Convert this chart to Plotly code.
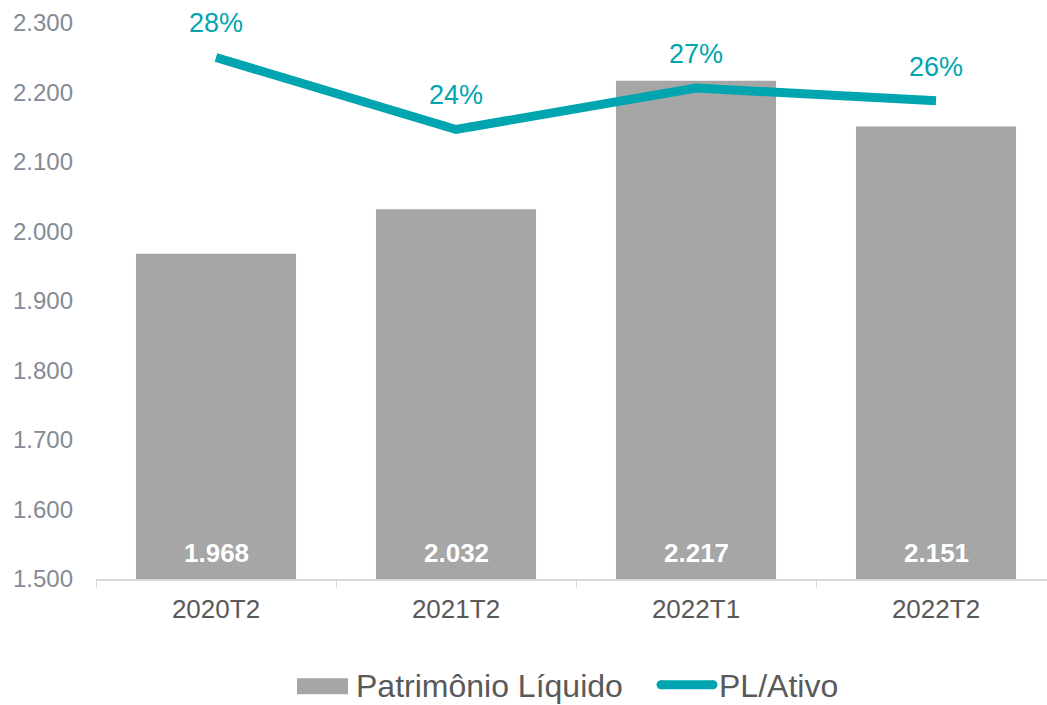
import plotly.graph_objects as go

categories = ["2020T2", "2021T2", "2022T1", "2022T2"]
patrimonio = [1968, 2032, 2217, 2151]
pl_ativo = [0.284, 0.244, 0.267, 0.260]
y_ticks = [1500, 1600, 1700, 1800, 1900, 2000, 2100, 2200, 2300]
series_names = ["Patrimônio Líquido", "PL/Ativo"]

Y_MIN, Y_MAX = 1500, 2300
TEAL = "#00A5B0"
GREY = "#A6A6A6"
FONT = "Liberation Sans, Arial, sans-serif"

# plot area in pixels (for placing the hand-drawn legend)
L, T, B, W, H = 96, 22.5, 126.3, 1047, 705
PW, PH = W - L, H - T - B
def px(xp):
    return (xp - L) / PW
def py(yp):
    return (H - B - yp) / PH

LEG_DY = -4  # keep legend text fully inside the page

fig = go.Figure()
fig.add_trace(go.Bar(
    x=categories, y=patrimonio, name=series_names[0],
    marker=dict(color=GREY, line=dict(width=0)),
    hoverinfo="skip",
))
fig.add_trace(go.Scatter(
    x=categories, y=pl_ativo, name=series_names[1], yaxis="y2",
    mode="lines", line=dict(color=TEAL, width=9),
    hoverinfo="skip",
))

annotations = []
for c, v in zip(categories, pl_ativo):
    annotations.append(dict(
        x=c, y=v, xref="x", yref="y2", text=f"{round(v*100):.0f}%",
        showarrow=False, yshift=34, yanchor="middle",
        font=dict(family=FONT, size=27, color=TEAL),
    ))
for c, v in zip(categories, patrimonio):
    annotations.append(dict(
        x=c, y=Y_MIN, xref="x", yref="y", text=f"{v:,}".replace(",", "."),
        showarrow=False, yshift=26, yanchor="middle",
        font=dict(family=FONT, size=26, color="white", weight="bold"),
    ))

# legend (drawn by hand to match the wide symbols)
annotations.append(dict(
    x=px(354), y=py(690 + LEG_DY), xref="paper", yref="paper", text=series_names[0],
    showarrow=False, xanchor="left", yanchor="middle",
    font=dict(family=FONT, size=32, color="#595959"),
))
annotations.append(dict(
    x=px(717), y=py(690 + LEG_DY), xref="paper", yref="paper", text=series_names[1],
    showarrow=False, xanchor="left", yanchor="middle",
    font=dict(family=FONT, size=32, color="#595959"),
))
shapes = [
    dict(type="rect", xref="paper", yref="paper",
         x0=px(297), x1=px(348), y0=py(698 + LEG_DY), y1=py(682 + LEG_DY),
         fillcolor=GREY, line=dict(width=0)),
    dict(type="line", xref="paper", yref="paper",
         x0=px(661), x1=px(713), y0=py(688.5 + LEG_DY), y1=py(688.5 + LEG_DY),
         line=dict(color=TEAL, width=9)),
    dict(type="circle", xref="paper", yref="paper",
         x0=px(656.5), x1=px(665.5), y0=py(693 + LEG_DY), y1=py(684 + LEG_DY),
         fillcolor=TEAL, line=dict(width=0)),
    dict(type="circle", xref="paper", yref="paper",
         x0=px(708.5), x1=px(717.5), y0=py(693 + LEG_DY), y1=py(684 + LEG_DY),
         fillcolor=TEAL, line=dict(width=0)),
]

fig.update_layout(
    width=W, height=H,
    margin=dict(l=L, r=0, t=T, b=B, autoexpand=False),
    paper_bgcolor="white", plot_bgcolor="white",
    separators=",.",
    bargap=0.333,
    font=dict(family=FONT, color="#595959"),
    xaxis=dict(
        type="category", range=[-0.5, 3.4625],
        showline=True, linecolor="#D9D9D9", linewidth=1.5,
        ticks="outside", tickson="boundaries", ticklen=7, tickcolor="#D9D9D9",
        tickfont=dict(family=FONT, size=26, color="#595959"),
        ticklabelstandoff=6,
        showgrid=False, zeroline=False,
    ),
    yaxis=dict(
        range=[Y_MIN, Y_MAX], tickvals=y_ticks, tickformat=",.0f",
        showgrid=False, zeroline=False, showline=False, ticks="",
        tickfont=dict(family=FONT, size=24, color="#838B96"),
        ticklabelstandoff=22,
    ),
    yaxis2=dict(
        overlaying="y", side="right", range=[-0.00583, 0.30317],
        visible=False, showgrid=False, zeroline=False,
    ),
    showlegend=False,
    annotations=annotations,
    shapes=shapes,
)

fig.write_html("out.html", config={"displayModeBar": False},
               post_script="document.body.style.margin='0';")
